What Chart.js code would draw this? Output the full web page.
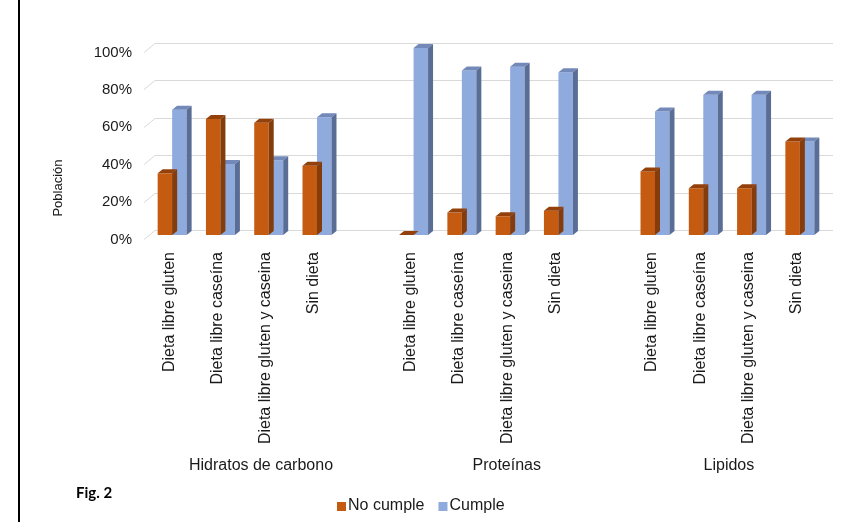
<!DOCTYPE html>
<html>
<head>
<meta charset="utf-8">
<script src="https://cdn.jsdelivr.net/npm/chart.js@4"></script>
<style>
  html, body { margin: 0; padding: 0; background: #ffffff; }
  #wrap { width: 853px; height: 522px; position: relative; }
</style>
</head>
<body>
<div id="wrap"><canvas id="chart" width="853" height="522"></canvas></div>
<script>
// Macronutrient compliance by diet group (percent of population)
const groups = ['Hidratos de carbono', 'Proteínas', 'Lipidos'];
const dietas = ['Dieta libre gluten', 'Dieta libre caseína', 'Dieta libre gluten y caseina', 'Sin dieta'];

const noCumpleHidratos  = [33, 62, 60, 37];
const cumpleHidratos    = [67, 38, 40, 63];
const noCumpleProteinas = [0, 12, 10, 13];
const cumpleProteinas   = [100, 88, 90, 87];
const noCumpleLipidos   = [34, 25, 25, 50];
const cumpleLipidos     = [66, 75, 75, 50];

const yTicks = [0, 20, 40, 60, 80, 100];
const seriesNames = ['No cumple', 'Cumple'];

// One empty slot separates consecutive groups on the category axis
const labels = [];
const noCumpleData = [];
const cumpleData = [];
const groupSeries = [
  [noCumpleHidratos, cumpleHidratos],
  [noCumpleProteinas, cumpleProteinas],
  [noCumpleLipidos, cumpleLipidos]
];
groupSeries.forEach((pair, gi) => {
  dietas.forEach((d, di) => {
    labels.push(d);
    noCumpleData.push(pair[0][di]);
    cumpleData.push(pair[1][di]);
  });
  if (gi < groupSeries.length - 1) {
    labels.push('');
    noCumpleData.push(null);
    cumpleData.push(null);
  }
});

// Styling
const FONT = '"Liberation Sans", Arial, sans-serif';
const palette = [
  { front: '#C55A11', top: '#93400B', side: '#843C0C' },
  { front: '#8FAADC', top: '#7289BA', side: '#5A6D95' }
];
const DEPTH_X = 5, DEPTH_Y = 4;        // bar extrusion
const WALL_X = 11, WALL_Y = 9;         // floor/back-wall perspective of grid lines
const groupLabelSlot = [1.84, 6.93, 11.53];

const decorations = {
  id: 'decorations',
  beforeDatasetsDraw(chart) {
    const ctx = chart.ctx, y = chart.scales.y, area = chart.chartArea;
    ctx.save();
    ctx.strokeStyle = '#D9D9D9';
    ctx.lineWidth = 1;
    yTicks.forEach(v => {
      const py = Math.round(y.getPixelForValue(v)) + 0.5;
      const fy = py + 4, by = fy - WALL_Y;
      const fx = area.left - 4;
      ctx.beginPath();
      ctx.moveTo(fx, fy);
      ctx.lineTo(fx + WALL_X, by);
      ctx.lineTo(area.right + 9, by);
      ctx.stroke();
    });
    ctx.restore();
  },
  afterDatasetDraw(chart, args) {
    const ctx = chart.ctx;
    const di = args.index;
    const col = palette[di];
    const values = chart.data.datasets[di].data;
    ctx.save();
    args.meta.data.forEach((el, i) => {
      if (values[i] == null) return;
      const p = el.getProps(['x', 'y', 'base', 'width'], true);
      const l = p.x - p.width / 2, r = p.x + p.width / 2;
      const t = p.y, b = p.base;
      // top face
      ctx.fillStyle = col.top;
      ctx.beginPath();
      ctx.moveTo(l, t);
      ctx.lineTo(l + DEPTH_X, t - DEPTH_Y);
      ctx.lineTo(r + DEPTH_X, t - DEPTH_Y);
      ctx.lineTo(r, t);
      ctx.closePath();
      ctx.fill();
      // side face
      ctx.fillStyle = col.side;
      ctx.beginPath();
      ctx.moveTo(r, t);
      ctx.lineTo(r + DEPTH_X, t - DEPTH_Y);
      ctx.lineTo(r + DEPTH_X, b - DEPTH_Y);
      ctx.lineTo(r, b);
      ctx.closePath();
      ctx.fill();
    });
    ctx.restore();
  },
  afterDraw(chart) {
    const ctx = chart.ctx, x = chart.scales.x, y = chart.scales.y, area = chart.chartArea;
    ctx.save();

    // left frame line
    ctx.fillStyle = '#000000';
    ctx.fillRect(18, 0, 2, 522);

    // value axis labels
    ctx.fillStyle = '#1a1a1a';
    ctx.font = '15px ' + FONT;
    ctx.textAlign = 'right';
    ctx.textBaseline = 'middle';
    yTicks.forEach(v => {
      ctx.fillText(v + '%', 132, y.getPixelForValue(v) + 4.5);
    });

    // value axis title
    ctx.save();
    ctx.translate(58, 188);
    ctx.rotate(-Math.PI / 2);
    ctx.font = '13px ' + FONT;
    ctx.textAlign = 'center';
    ctx.fillText('Población', 0, 0);
    ctx.restore();

    // rotated category labels
    ctx.font = '16px ' + FONT;
    labels.forEach((lab, i) => {
      if (!lab) return;
      ctx.save();
      ctx.translate(x.getPixelForValue(i) - 3, 252);
      ctx.rotate(-Math.PI / 2);
      ctx.textAlign = 'right';
      ctx.textBaseline = 'middle';
      ctx.fillText(lab, 0, 0);
      ctx.restore();
    });

    // group labels
    const slotW = (area.right - area.left) / labels.length;
    ctx.textAlign = 'center';
    ctx.textBaseline = 'middle';
    groups.forEach((g, gi) => {
      ctx.fillText(g, area.left + (groupLabelSlot[gi] + 0.5) * slotW, 466);
    });

    // legend
    ctx.font = '16px ' + FONT;
    ctx.textAlign = 'left';
    let lx = 337;
    seriesNames.forEach((name, si) => {
      ctx.fillStyle = palette[si].front;
      ctx.fillRect(lx, 502, 9, 9);
      ctx.fillStyle = '#1a1a1a';
      ctx.fillText(name, lx + 11, 506);
      lx += 11 + ctx.measureText(name).width + 14;
    });

    // figure tag
    ctx.font = 'bold 15px Lato, "Open Sans", sans-serif';
    ctx.fillStyle = '#000000';
    ctx.fillText('Fig. 2', 76, 493);

    ctx.restore();
  }
};

new Chart(document.getElementById('chart'), {
  type: 'bar',
  data: {
    labels: labels,
    datasets: [
      { label: seriesNames[0], data: noCumpleData, backgroundColor: palette[0].front, borderWidth: 0, clip: false },
      { label: seriesNames[1], data: cumpleData, backgroundColor: palette[1].front, borderWidth: 0, clip: false }
    ]
  },
  options: {
    responsive: false,
    animation: false,
    devicePixelRatio: 1,
    layout: { padding: { left: 148, right: 29, top: 48, bottom: 287 } },
    datasets: { bar: { categoryPercentage: 0.6, barPercentage: 1.0 } },
    plugins: { legend: { display: false }, tooltip: { enabled: false }, title: { display: false } },
    scales: {
      x: { display: false },
      y: { display: false, min: 0, max: 100 }
    }
  },
  plugins: [decorations]
});
</script>
</body>
</html>
